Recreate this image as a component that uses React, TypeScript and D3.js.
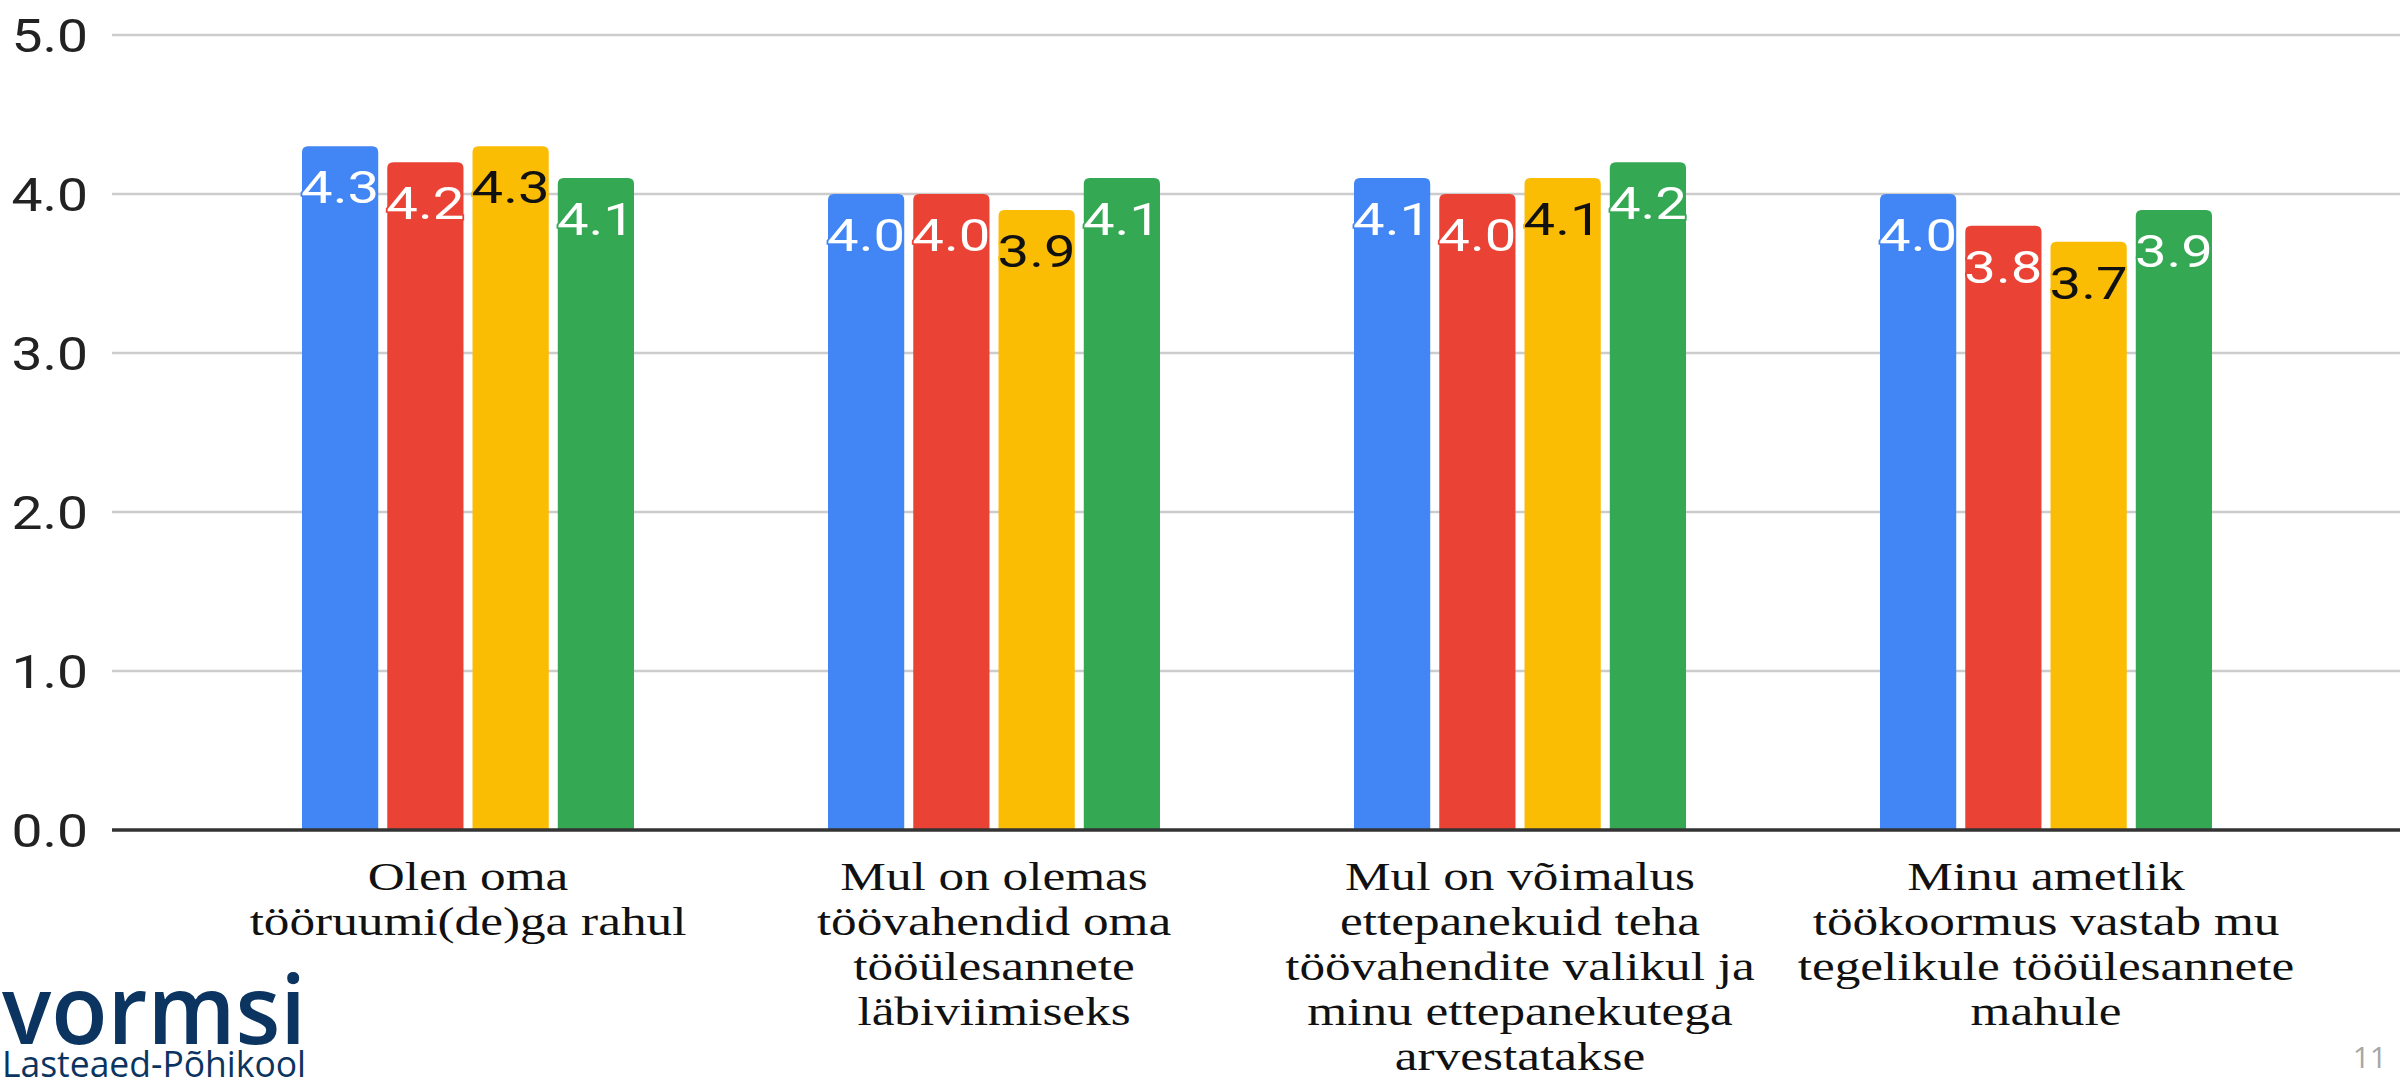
import React from "react";
import * as d3 from "d3";

const categories: string[][] = [
  ["Olen oma", "tööruumi(de)ga rahul"],
  ["Mul on olemas", "töövahendid oma", "tööülesannete", "läbiviimiseks"],
  ["Mul on võimalus", "ettepanekuid teha", "töövahendite valikul ja", "minu ettepanekutega", "arvestatakse"],
  ["Minu ametlik", "töökoormus vastab mu", "tegelikule tööülesannete", "mahule"],
];
const categoryKeys = ["c1", "c2", "c3", "c4"];
const seriesNames = ["Seeria 1", "Seeria 2", "Seeria 3", "Seeria 4"];
const seriesColors = ["#4285F4", "#EA4335", "#FBBC04", "#34A853"];
const labelColors = ["#ffffff", "#ffffff", "#111111", "#ffffff"];
const series1 = [4.3, 4.0, 4.1, 4.0];
const series2 = [4.2, 4.0, 4.0, 3.8];
const series3 = [4.3, 3.9, 4.1, 3.7];
const series4 = [4.1, 4.1, 4.2, 3.9];
const seriesValues = [series1, series2, series3, series4];
const yTicks = [0, 1, 2, 3, 4, 5];

const W = 2400;
const H = 1080;
const SX = 1.25;
const SERIF = '"Liberation Serif", "Times New Roman", Times, serif';
const SANS = 'Roboto, "Liberation Sans", Arial, sans-serif';

function topRoundedBar(x: number, y: number, w: number, h: number, r: number) {
  const rr = Math.min(r, h);
  return `M${x},${y + h}V${y + rr}Q${x},${y} ${x + rr},${y}H${x + w - rr}Q${x + w},${y} ${x + w},${y + rr}V${y + h}Z`;
}

export default function App() {
  const y = d3.scaleLinear().domain([0, 5]).range([830, 35]);
  const x0 = d3.scaleBand<string>().domain(categoryKeys).range([205, 2309]).paddingInner(0).paddingOuter(0);
  const groupW = 332;
  const x1 = d3.scaleBand<string>().domain(seriesNames).range([-groupW / 2, groupW / 2]).paddingInner(0.106).paddingOuter(0);
  const bw = x1.bandwidth();

  return (
    <svg width={W} height={H} style={{ position: "absolute", left: 0, top: 0, background: "#fff" }}>
      <rect x={0} y={0} width={W} height={H} fill="#ffffff" />
      {yTicks.filter((t) => t !== 0).map((t) => (
        <line key={"g" + t} x1={112} x2={W} y1={y(t)} y2={y(t)} stroke="#cccccc" strokeWidth={2.5} />
      ))}
      {yTicks.map((t) => (
        <text
          key={"yl" + t}
          transform={`translate(88,${y(t) + 17}) scale(1.2,1)`}
          textAnchor="end"
          style={{ fontFamily: SANS, fontSize: 46 }}
          fill="#222"
        >
          {t.toFixed(1)}
        </text>
      ))}
      {categoryKeys.map((c, ci) => {
        const cx = (x0(c) as number) + x0.bandwidth() / 2;
        return (
          <g key={c}>
            {seriesNames.map((s, si) => {
              const v = seriesValues[si][ci];
              const bx = cx + (x1(s) as number);
              const top = y(v);
              return (
                <g key={s}>
                  <path d={topRoundedBar(bx, top, bw, y(0) - top, 6)} fill={seriesColors[si]} />
                  <text
                    transform={`translate(${bx + bw / 2},${top + 57}) scale(${SX},1)`}
                    textAnchor="middle"
                    style={{ fontFamily: SANS, fontSize: 45, paintOrder: "stroke" }}
                    fill={labelColors[si]}
                    stroke={seriesColors[si]}
                    strokeWidth={3}
                  >
                    {v.toFixed(1)}
                  </text>
                </g>
              );
            })}
            {categories[ci].map((line, li) => (
              <text
                key={li}
                transform={`translate(${cx},${890 + li * 45}) scale(${SX},1)`}
                textAnchor="middle"
                style={{ fontFamily: SERIF, fontSize: 41 }}
                fill="#111"
              >
                {line}
              </text>
            ))}
          </g>
        );
      })}
      <line x1={112} x2={W} y1={y(0)} y2={y(0)} stroke="#333333" strokeWidth={3.5} />
      <text x={2} y={1044} style={{ fontFamily: '"Open Sans", "Noto Sans", sans-serif', fontWeight: 600, fontSize: 96 }} fill="#0b3461" textLength={304} lengthAdjust="spacingAndGlyphs">
        vormsi
      </text>
      <text x={2} y={1077} style={{ fontFamily: '"Open Sans", "Noto Sans", sans-serif', fontWeight: 500, fontSize: 36 }} fill="#0b3461" textLength={304} lengthAdjust="spacingAndGlyphs">
        Lasteaed-Põhikool
      </text>
      <text x={2387} y={1068} textAnchor="end" style={{ fontFamily: '"Open Sans", Calibri, sans-serif', fontSize: 30 }} fill="#a6a6a6">
        11
      </text>
    </svg>
  );
}
